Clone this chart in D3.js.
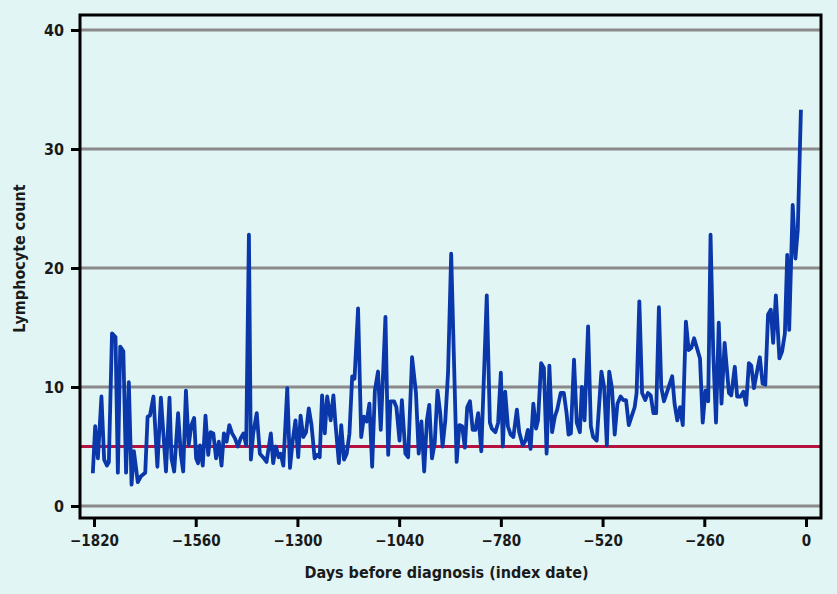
<!DOCTYPE html>
<html>
<head>
<meta charset="utf-8">
<script src="https://cdn.jsdelivr.net/npm/d3@7"></script>
<style>
  body { margin: 0; background: #e0f5f4; }
  svg { display: block; }
  text { font-family: "DejaVu Sans", "Liberation Sans Narrow", sans-serif; font-stretch: condensed; font-weight: bold; fill: #1a1a1a; }
</style>
</head>
<body>
<script>
// days before diagnosis
const days = [
  -1823,-1817,-1810,-1801,-1794,-1787,-1782,-1774,-1765,-1759,-1753,-1745,-1738,-1731,-1724,-1718,
  -1708,-1700,-1689,-1683,-1677,-1668,-1658,-1649,-1636,-1627,-1622,-1615,-1605,-1598,-1592,-1585,
  -1578,-1571,-1564,-1559,-1554,-1549,-1542,-1535,-1528,-1522,-1515,-1508,-1501,-1494,-1488,-1481,
  -1474,-1467,-1460,-1452,-1445,-1438,-1431,-1424,-1419,-1413,-1404,-1396,-1388,-1379,-1368,-1362,
  -1355,-1348,-1343,-1336,-1326,-1319,-1312,-1305,-1298,-1292,-1285,-1278,-1271,-1264,-1256,-1249,
  -1243,-1237,-1230,-1224,-1215,-1208,-1203,-1194,-1188,-1181,-1174,-1167,-1160,-1154,-1145,-1137,
  -1130,-1123,-1116,-1109,-1102,-1094,-1087,-1075,-1068,-1062,-1053,-1047,-1039,-1033,-1024,-1017,
  -1007,-997,-990,-983,-976,-969,-963,-956,-949,-942,-935,-929,-922,-915,-907,-893,
  -886,-879,-872,-866,-859,-852,-845,-838,-830,-816,-808,-803,-794,-787,-780,-775,
  -769,-762,-755,-748,-739,-733,-724,-717,-711,-704,-697,-690,-685,-677,-670,-663,
  -656,-649,-642,-636,-627,-619,-612,-607,-601,-593,-586,-578,-573,-566,-557,-550,
  -544,-535,-523,-516,-509,-503,-496,-489,-482,-474,-467,-460,-453,-447,-438,-433,
  -426,-419,-411,-404,-397,-390,-383,-376,-370,-363,-356,-349,-342,-336,-329,-322,
  -315,-307,-300,-293,-286,-279,-271,-264,-257,-250,-244,-237,-230,-223,-216,-208,
  -197,-191,-182,-176,-167,-160,-153,-146,-140,-133,-123,-118,-111,-104,-97,-90,
  -84,-77,-68,-61,-54,-48,-43,-34,-27,-21,-13
];
// lymphocyte count at each day
const counts = [
  2.75,6.7,4.0,9.2,3.9,3.4,3.7,14.5,14.2,2.8,13.4,13.0,2.8,10.4,1.8,4.6,
  2.0,2.5,2.8,7.5,7.6,9.2,3.3,9.1,2.9,9.1,4.0,2.9,7.8,4.3,2.9,9.7,
  5.1,6.8,7.4,4.0,3.6,5.1,3.4,7.6,4.3,6.2,6.1,4.0,5.4,3.4,6.1,5.4,
  6.8,6.1,5.7,5.0,5.7,6.1,5.1,22.8,3.9,6.1,7.8,4.4,4.1,3.7,6.1,3.6,
  5.0,4.1,4.4,3.4,9.9,3.2,5.5,7.2,4.1,7.6,5.8,6.2,8.2,6.8,4.0,4.3,
  4.1,9.3,6.1,9.2,7.2,9.3,7.0,3.6,6.8,3.9,4.4,6.1,10.9,10.7,16.6,5.8,
  7.5,7.1,8.6,3.3,9.7,11.3,6.4,15.9,4.3,8.8,8.8,8.3,5.5,8.9,4.4,4.1,
  12.5,9.5,4.4,7.1,2.9,7.2,8.5,4.0,5.3,9.7,7.8,5.0,7.2,11.2,21.2,3.7,
  6.8,6.7,4.9,8.3,8.8,6.4,6.4,7.8,4.6,17.7,7.0,6.5,6.2,7.0,11.2,5.0,
  9.6,6.7,6.0,5.8,8.1,6.2,5.1,5.5,6.4,4.8,8.6,6.5,7.2,12.0,11.6,4.4,
  11.8,6.2,7.5,8.1,9.5,9.5,7.8,6.0,6.1,12.3,7.0,6.2,10.0,7.2,15.1,6.7,
  5.8,5.5,11.3,10.0,5.1,11.3,9.9,6.0,8.6,9.2,8.9,8.9,6.8,7.4,8.3,9.5,
  17.2,9.5,8.9,9.5,9.3,7.8,7.8,16.7,10.0,8.8,9.5,10.2,10.9,8.6,7.2,8.3,
  6.8,15.5,13.1,13.3,14.1,13.3,12.4,7.0,9.7,8.8,22.8,12.8,7.0,15.4,8.6,13.7,
  9.5,9.3,11.7,9.2,9.2,9.6,8.5,12.0,11.8,9.9,11.7,12.5,10.3,10.2,16.1,16.5,
  13.7,17.7,12.4,13.0,14.5,21.1,14.8,25.3,20.8,23.2,33.3
];
const xTicks = [-1820, -1560, -1300, -1040, -780, -520, -260, 0];
const yTicks = [0, 10, 20, 30, 40];
const threshold = 5;

const width = 837, height = 594;
const frame = { left: 80, right: 821, top: 15, bottom: 518 };

const svg = d3.select("body").append("svg")
  .attr("width", width)
  .attr("height", height);

svg.append("rect")
  .attr("width", width).attr("height", height)
  .attr("fill", "#e0f5f4");

const x = d3.scaleLinear().domain([-1820, 0]).range([94, 806]);
const y = d3.scaleLinear().domain([0, 40]).range([506, 30]);

// grid lines
svg.append("g")
  .selectAll("line")
  .data(yTicks)
  .join("line")
  .attr("x1", frame.left).attr("x2", frame.right)
  .attr("y1", d => y(d)).attr("y2", d => y(d))
  .attr("stroke", "#8a8a8a")
  .attr("stroke-width", 3);

// reference line at 5
svg.append("line")
  .attr("x1", frame.left).attr("x2", frame.right)
  .attr("y1", y(threshold)).attr("y2", y(threshold))
  .attr("stroke", "#b5123f")
  .attr("stroke-width", 3);

const data = days.map((d, i) => ({ day: d, value: counts[i] }));

svg.append("path")
  .datum(data)
  .attr("fill", "none")
  .attr("stroke", "#0a37aa")
  .attr("stroke-width", 3.8)
  .attr("stroke-linejoin", "round")
  .attr("d", d3.line().x(d => x(d.day)).y(d => y(d.value)));

// frame
svg.append("rect")
  .attr("x", frame.left).attr("y", frame.top)
  .attr("width", frame.right - frame.left)
  .attr("height", frame.bottom - frame.top)
  .attr("fill", "none")
  .attr("stroke", "#000")
  .attr("stroke-width", 3);

const yAxis = d3.axisLeft(y).tickValues(yTicks).tickSize(9).tickPadding(7);
const xAxis = d3.axisBottom(x).tickValues(xTicks).tickSize(9).tickPadding(8)
  .tickFormat(d => d < 0 ? "\u2212" + Math.abs(d) : d);

svg.append("g")
  .attr("transform", `translate(${frame.left},0)`)
  .call(yAxis)
  .call(g => g.select(".domain").remove())
  .call(g => g.selectAll(".tick line").attr("stroke", "#000").attr("stroke-width", 3))
  .call(g => g.selectAll(".tick text").style("font-size", "16px"));

svg.append("g")
  .attr("transform", `translate(0,${frame.bottom})`)
  .call(xAxis)
  .call(g => g.select(".domain").remove())
  .call(g => g.selectAll(".tick line").attr("stroke", "#000").attr("stroke-width", 3))
  .call(g => g.selectAll(".tick text").style("font-size", "15px"));

svg.append("text")
  .attr("x", (frame.left + frame.right) / 2 - 4)
  .attr("y", 578)
  .attr("text-anchor", "middle")
  .style("font-size", "16px")
  .text("Days before diagnosis (index date)");

svg.append("text")
  .attr("transform", `translate(25,${(frame.top + frame.bottom) / 2 - 8}) rotate(-90)`)
  .attr("text-anchor", "middle")
  .style("font-size", "16px")
  .text("Lymphocyte count");
</script>
</body>
</html>
